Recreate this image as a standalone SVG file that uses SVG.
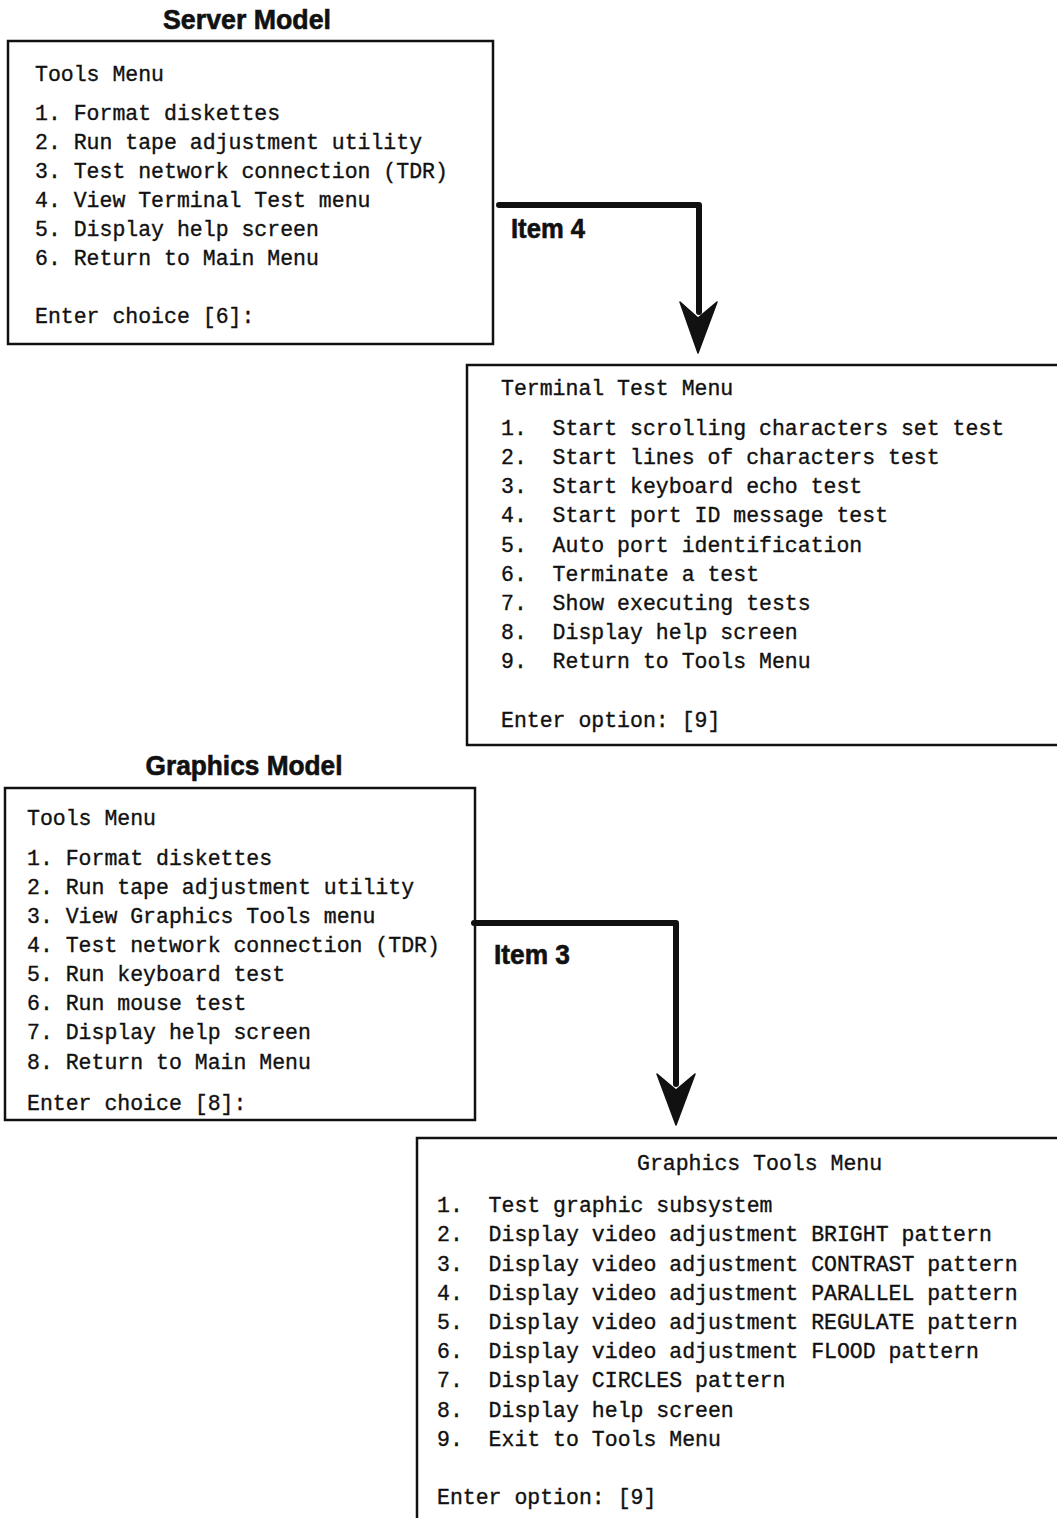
<svg xmlns="http://www.w3.org/2000/svg" width="1057" height="1518" viewBox="0 0 1057 1518">
  <style>
    .frame { fill: #ffffff; stroke: #111111; stroke-width: 2.5; }
    .mono { font-family: "Liberation Mono", "DejaVu Sans Mono", monospace; font-size: 21.5px; fill: #111111; stroke: #111111; stroke-width: 0.35; white-space: pre; }
    .head { font-family: "Liberation Sans", Arial, sans-serif; font-weight: bold; font-size: 27px; fill: #111111; stroke: #111111; stroke-width: 0.6; }
    .wire { fill: none; stroke: #111111; stroke-width: 6; stroke-linejoin: round; stroke-linecap: round; }
    .tip { fill: #111111; stroke: #111111; stroke-width: 1.5; stroke-linejoin: round; }
  </style>
  <rect width="1057" height="1518" fill="#ffffff"/>

  <!-- Server model: Tools Menu -->
  <g id="server-tools">
    <text class="head" x="247" y="29" text-anchor="middle" textLength="168" lengthAdjust="spacingAndGlyphs">Server Model</text>
    <rect class="frame" x="8" y="41" width="485" height="303"/>
    <text class="mono" x="35" y="81">Tools Menu</text>
    <text class="mono" x="35" y="120">1. Format diskettes</text>
    <text class="mono" x="35" y="149">2. Run tape adjustment utility</text>
    <text class="mono" x="35" y="178">3. Test network connection (TDR)</text>
    <text class="mono" x="35" y="207">4. View Terminal Test menu</text>
    <text class="mono" x="35" y="236">5. Display help screen</text>
    <text class="mono" x="35" y="265">6. Return to Main Menu</text>
    <text class="mono" x="35" y="323">Enter choice [6]:</text>
  </g>

  <!-- Terminal Test Menu -->
  <g id="terminal-test">
    <rect class="frame" x="467" y="365" width="610" height="380"/>
    <text class="mono" x="501" y="395">Terminal Test Menu</text>
    <text class="mono" x="501" y="435">1.  Start scrolling characters set test</text>
    <text class="mono" x="501" y="464">2.  Start lines of characters test</text>
    <text class="mono" x="501" y="493">3.  Start keyboard echo test</text>
    <text class="mono" x="501" y="522">4.  Start port ID message test</text>
    <text class="mono" x="501" y="552">5.  Auto port identification</text>
    <text class="mono" x="501" y="581">6.  Terminate a test</text>
    <text class="mono" x="501" y="610">7.  Show executing tests</text>
    <text class="mono" x="501" y="639">8.  Display help screen</text>
    <text class="mono" x="501" y="668">9.  Return to Tools Menu</text>
    <text class="mono" x="501" y="727">Enter option: [9]</text>
  </g>

  <!-- Graphics model: Tools Menu -->
  <g id="graphics-tools">
    <text class="head" x="244" y="775" text-anchor="middle" textLength="197" lengthAdjust="spacingAndGlyphs">Graphics Model</text>
    <rect class="frame" x="5" y="788" width="470" height="332"/>
    <text class="mono" x="27" y="825">Tools Menu</text>
    <text class="mono" x="27" y="865">1. Format diskettes</text>
    <text class="mono" x="27" y="894">2. Run tape adjustment utility</text>
    <text class="mono" x="27" y="923">3. View Graphics Tools menu</text>
    <text class="mono" x="27" y="952">4. Test network connection (TDR)</text>
    <text class="mono" x="27" y="981">5. Run keyboard test</text>
    <text class="mono" x="27" y="1010">6. Run mouse test</text>
    <text class="mono" x="27" y="1039">7. Display help screen</text>
    <text class="mono" x="27" y="1069">8. Return to Main Menu</text>
    <text class="mono" x="27" y="1110">Enter choice [8]:</text>
  </g>

  <!-- Graphics Tools Menu -->
  <g id="graphics-tools-menu">
    <rect class="frame" x="417" y="1138" width="660" height="400"/>
    <text class="mono" x="637" y="1170">Graphics Tools Menu</text>
    <text class="mono" x="437" y="1212">1.  Test graphic subsystem</text>
    <text class="mono" x="437" y="1241">2.  Display video adjustment BRIGHT pattern</text>
    <text class="mono" x="437" y="1271">3.  Display video adjustment CONTRAST pattern</text>
    <text class="mono" x="437" y="1300">4.  Display video adjustment PARALLEL pattern</text>
    <text class="mono" x="437" y="1329">5.  Display video adjustment REGULATE pattern</text>
    <text class="mono" x="437" y="1358">6.  Display video adjustment FLOOD pattern</text>
    <text class="mono" x="437" y="1387">7.  Display CIRCLES pattern</text>
    <text class="mono" x="437" y="1417">8.  Display help screen</text>
    <text class="mono" x="437" y="1446">9.  Exit to Tools Menu</text>
    <text class="mono" x="437" y="1504">Enter option: [9]</text>
  </g>

  <!-- Connectors -->
  <g id="connectors">
    <path class="wire" d="M499 205 H699 V312"/>
    <path class="tip" d="M698 353 L717 302 L698 318 L680 302 Z"/>
    <text class="head" x="511" y="238" textLength="74" lengthAdjust="spacingAndGlyphs">Item 4</text>

    <path class="wire" d="M474 923 H676 V1084"/>
    <path class="tip" d="M676 1125 L695 1074 L676 1090 L657 1074 Z"/>
    <text class="head" x="494" y="964" textLength="76" lengthAdjust="spacingAndGlyphs">Item 3</text>
  </g>
</svg>
